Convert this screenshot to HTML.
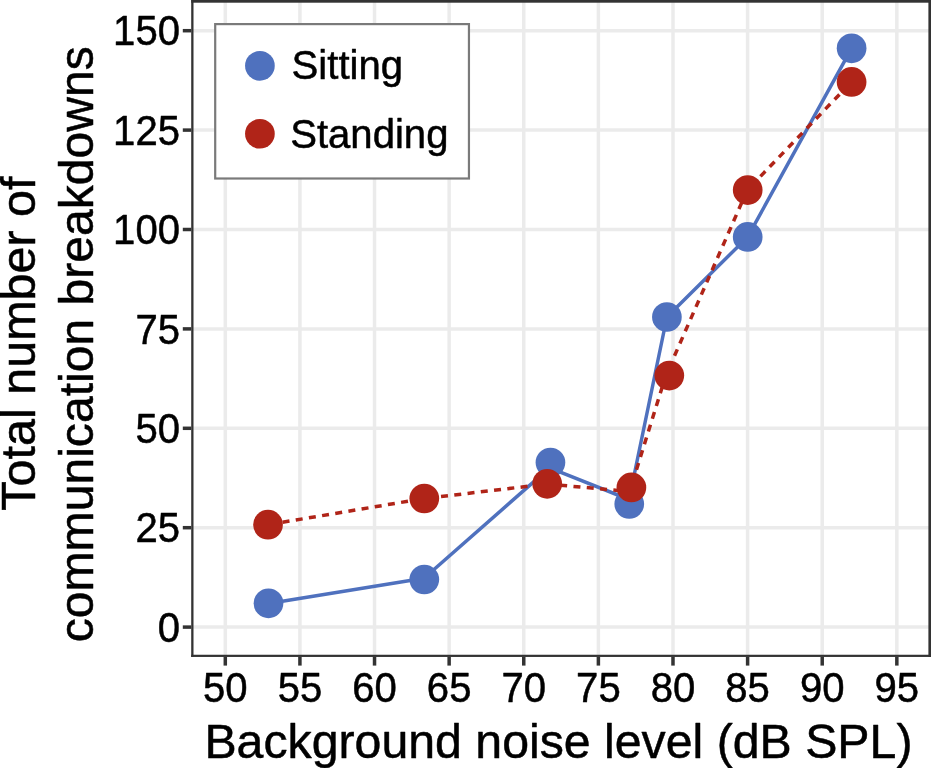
<!DOCTYPE html>
<html><head><meta charset="utf-8"><title>Communication breakdowns vs background noise level</title>
<style>html,body{margin:0;padding:0;background:#fff;overflow:hidden}svg{display:block}text{font-family:"Liberation Sans",sans-serif;fill:#000;stroke:#000;stroke-width:0.5px;stroke-linejoin:round}</style></head><body>
<svg width="931" height="768" viewBox="0 0 931 768">
<rect x="0" y="0" width="931" height="768" fill="#fff"/>
<g stroke="#EBEBEB" stroke-width="3.5" fill="none">
<line x1="192.35" x2="929.6" y1="627.10" y2="627.10"/>
<line x1="192.35" x2="929.6" y1="527.70" y2="527.70"/>
<line x1="192.35" x2="929.6" y1="428.30" y2="428.30"/>
<line x1="192.35" x2="929.6" y1="328.90" y2="328.90"/>
<line x1="192.35" x2="929.6" y1="229.50" y2="229.50"/>
<line x1="192.35" x2="929.6" y1="130.10" y2="130.10"/>
<line x1="192.35" x2="929.6" y1="30.70" y2="30.70"/>
<line x1="225.30" x2="225.30" y1="0.9" y2="655.85"/>
<line x1="299.92" x2="299.92" y1="0.9" y2="655.85"/>
<line x1="374.53" x2="374.53" y1="0.9" y2="655.85"/>
<line x1="449.14" x2="449.14" y1="0.9" y2="655.85"/>
<line x1="523.76" x2="523.76" y1="0.9" y2="655.85"/>
<line x1="598.38" x2="598.38" y1="0.9" y2="655.85"/>
<line x1="672.99" x2="672.99" y1="0.9" y2="655.85"/>
<line x1="747.61" x2="747.61" y1="0.9" y2="655.85"/>
<line x1="822.22" x2="822.22" y1="0.9" y2="655.85"/>
<line x1="896.84" x2="896.84" y1="0.9" y2="655.85"/>
</g>
<polyline points="268.5,603.4 424.0,578.2 549.6,467.9 629.1,499.5 666.9,317.0 747.7,236.9 851.6,48.3" fill="none" stroke="#4F71BE" stroke-width="3.5" stroke-linejoin="round"/>
<g fill="none" stroke="#B02418" stroke-width="3.5" stroke-dasharray="7 6.35">
<line x1="268.0" y1="524.7" x2="424.3" y2="498.5" stroke-dashoffset="-1.43"/>
<line x1="424.3" y1="498.5" x2="547.2" y2="484.0" stroke-dashoffset="-3.49"/>
<line x1="547.2" y1="484.0" x2="629.7" y2="491.5" stroke-dashoffset="-13.02"/>
<line x1="629.7" y1="491.5" x2="665.8" y2="375.6" stroke-dashoffset="-9.46"/>
<line x1="665.8" y1="375.6" x2="747.3" y2="190.0" stroke-dashoffset="-8.33"/>
<line x1="747.3" y1="190.0" x2="851.6" y2="81.9" stroke-dashoffset="-5.59"/>
</g>
<circle cx="268.5" cy="603.3" r="14.85" fill="#4F71BE"/>
<circle cx="424.3" cy="579.5" r="14.85" fill="#4F71BE"/>
<circle cx="550.45" cy="462.6" r="14.85" fill="#4F71BE"/>
<circle cx="629.25" cy="504.0" r="14.85" fill="#4F71BE"/>
<circle cx="666.9" cy="317.0" r="14.85" fill="#4F71BE"/>
<circle cx="747.7" cy="236.95" r="14.85" fill="#4F71BE"/>
<circle cx="851.6" cy="48.3" r="14.85" fill="#4F71BE"/>
<circle cx="268.0" cy="524.7" r="14.85" fill="#B02418"/>
<circle cx="424.3" cy="498.5" r="14.85" fill="#B02418"/>
<circle cx="547.2" cy="483.8" r="14.85" fill="#B02418"/>
<circle cx="631.4" cy="487.4" r="14.85" fill="#B02418"/>
<circle cx="669.3" cy="375.6" r="14.85" fill="#B02418"/>
<circle cx="747.7" cy="190.05" r="14.85" fill="#B02418"/>
<circle cx="851.6" cy="81.9" r="14.85" fill="#B02418"/>
<g fill="#333333">
<rect x="191.2" y="0" width="739.8" height="2.7"/>
<rect x="928.4" y="0" width="2.6" height="656.95"/>
<rect x="191.2" y="0" width="2.3" height="656.95"/>
<rect x="191.2" y="654.75" width="739.8" height="2.2"/>
</g>
<g stroke="#333333" stroke-width="3.5">
<line x1="182.8" x2="191.25" y1="627.10" y2="627.10"/>
<line x1="182.8" x2="191.25" y1="527.70" y2="527.70"/>
<line x1="182.8" x2="191.25" y1="428.30" y2="428.30"/>
<line x1="182.8" x2="191.25" y1="328.90" y2="328.90"/>
<line x1="182.8" x2="191.25" y1="229.50" y2="229.50"/>
<line x1="182.8" x2="191.25" y1="130.10" y2="130.10"/>
<line x1="182.8" x2="191.25" y1="30.70" y2="30.70"/>
<line x1="225.30" x2="225.30" y1="656.95" y2="665.6"/>
<line x1="299.92" x2="299.92" y1="656.95" y2="665.6"/>
<line x1="374.53" x2="374.53" y1="656.95" y2="665.6"/>
<line x1="449.14" x2="449.14" y1="656.95" y2="665.6"/>
<line x1="523.76" x2="523.76" y1="656.95" y2="665.6"/>
<line x1="598.38" x2="598.38" y1="656.95" y2="665.6"/>
<line x1="672.99" x2="672.99" y1="656.95" y2="665.6"/>
<line x1="747.61" x2="747.61" y1="656.95" y2="665.6"/>
<line x1="822.22" x2="822.22" y1="656.95" y2="665.6"/>
<line x1="896.84" x2="896.84" y1="656.95" y2="665.6"/>
</g>
<g font-size="40.1">
<text transform="translate(180.0,641.80) scale(1,1.04)" text-anchor="end">0</text>
<text transform="translate(180.0,542.40) scale(1,1.04)" text-anchor="end">25</text>
<text transform="translate(180.0,443.00) scale(1,1.04)" text-anchor="end">50</text>
<text transform="translate(180.0,343.60) scale(1,1.04)" text-anchor="end">75</text>
<text transform="translate(180.0,244.20) scale(1,1.04)" text-anchor="end">100</text>
<text transform="translate(180.0,144.80) scale(1,1.04)" text-anchor="end">125</text>
<text transform="translate(180.0,45.40) scale(1,1.04)" text-anchor="end">150</text>
<text transform="translate(225.30,702.1) scale(1,1.04)" text-anchor="middle">50</text>
<text transform="translate(299.92,702.1) scale(1,1.04)" text-anchor="middle">55</text>
<text transform="translate(374.53,702.1) scale(1,1.04)" text-anchor="middle">60</text>
<text transform="translate(449.14,702.1) scale(1,1.04)" text-anchor="middle">65</text>
<text transform="translate(523.76,702.1) scale(1,1.04)" text-anchor="middle">70</text>
<text transform="translate(598.38,702.1) scale(1,1.04)" text-anchor="middle">75</text>
<text transform="translate(672.99,702.1) scale(1,1.04)" text-anchor="middle">80</text>
<text transform="translate(747.61,702.1) scale(1,1.04)" text-anchor="middle">85</text>
<text transform="translate(822.22,702.1) scale(1,1.04)" text-anchor="middle">90</text>
<text transform="translate(896.84,702.1) scale(1,1.04)" text-anchor="middle">95</text>
</g>
<text x="204.4" y="758.1" font-size="48.25">Background noise level (dB SPL)</text>
<text transform="translate(35.0,343.6) rotate(-90)" font-size="48.5" text-anchor="middle">Total number of</text>
<text transform="translate(93.4,344.2) rotate(-90)" font-size="48.1" text-anchor="middle">communication breakdowns</text>
<rect x="215.2" y="24.1" width="253.75" height="154.4" fill="#fff" stroke="#7A7A7A" stroke-width="2.2"/>
<circle cx="259.9" cy="65.85" r="14.85" fill="#4F71BE"/>
<circle cx="259.9" cy="133.75" r="14.85" fill="#B02418"/>
<text transform="translate(291.6,79.2) scale(1,1.03)" font-size="40.1">Sitting</text>
<text transform="translate(290.2,148.3) scale(1,1.03)" font-size="40.1">Standing</text>
</svg></body></html>
